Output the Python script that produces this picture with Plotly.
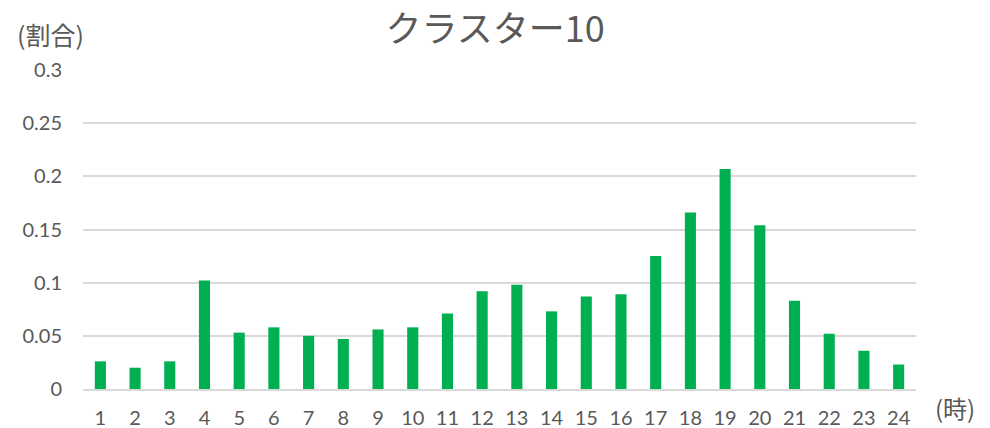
import plotly.graph_objects as go

# Hourly share for cluster 10
hours = [str(h) for h in range(1, 25)]
shares = [0.026, 0.020, 0.026, 0.102, 0.053, 0.058, 0.050, 0.047,
          0.056, 0.058, 0.071, 0.092, 0.098, 0.073, 0.087, 0.089,
          0.125, 0.166, 0.207, 0.154, 0.083, 0.052, 0.036, 0.023]
y_ticks = [0, 0.05, 0.1, 0.15, 0.2, 0.25, 0.3]
y_tick_text = ["0", "0.05", "0.1", "0.15", "0.2", "0.25", "0.3"]

title_text = "クラスター10"
y_label = "(割合)"
x_label = "(時)"

FONT = "Lato, 'Noto Sans CJK JP', sans-serif"
CJK = "'Noto Sans CJK JP', sans-serif"
TEXT_COLOR = "#595959"
GRID_COLOR = "#D9D9D9"
BAR_COLOR = "#00B050"

fig = go.Figure(
    go.Bar(
        x=hours,
        y=shares,
        marker=dict(color=BAR_COLOR, line=dict(width=0)),
        width=0.32,
    )
)

fig.update_layout(
    width=990,
    height=428,
    margin=dict(l=83, r=74, t=70, b=39),
    paper_bgcolor="white",
    plot_bgcolor="white",
    showlegend=False,
    font=dict(family=FONT, color=TEXT_COLOR, size=20),
    title=dict(
        text=title_text,
        x=0.5,
        xanchor="center",
        y=0.932,
        yanchor="middle",
        font=dict(family=CJK, size=36, color=TEXT_COLOR),
    ),
)

fig.update_xaxes(
    type="category",
    tickfont=dict(size=20, color=TEXT_COLOR),
    showgrid=False,
    showline=True,
    linecolor=GRID_COLOR,
    linewidth=1.5,
    ticks="",
    ticklabelstandoff=10,
    automargin=False,
)

fig.update_yaxes(
    range=[0, 0.3],
    tickvals=y_ticks,
    ticktext=y_tick_text,
    tickfont=dict(size=20, color=TEXT_COLOR),
    showgrid=True,
    gridcolor=GRID_COLOR,
    gridwidth=1.5,
    zeroline=False,
    showline=False,
    ticks="",
    ticklabelstandoff=20,
    automargin=False,
)

fig.add_annotation(
    text=y_label, xref="paper", yref="paper", x=-0.0816, y=1.113,
    xanchor="left", yanchor="middle", showarrow=False,
    font=dict(family=CJK, size=25, color=TEXT_COLOR),
)
fig.add_annotation(
    text=x_label, xref="paper", yref="paper", x=1.02, y=-0.058,
    xanchor="left", yanchor="middle", showarrow=False,
    font=dict(family=CJK, size=24, color=TEXT_COLOR),
)

fig.write_html("out.html")
